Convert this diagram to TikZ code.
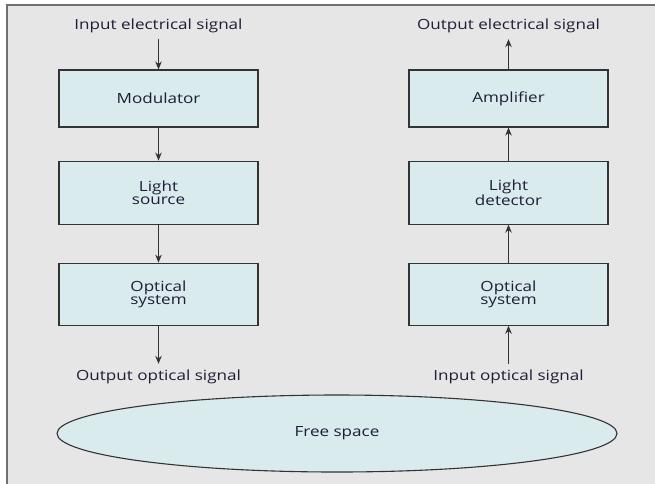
\documentclass[tikz,border=0pt]{standalone}
\usepackage{fontspec}
\setmainfont[FakeStretch=1.22]{Open Sans}
\usepackage{tikz}
\usetikzlibrary{positioning,arrows.meta,shapes.geometric}
\definecolor{bgpanel}{HTML}{E6E6E6}
\definecolor{frameln}{HTML}{707070}
\definecolor{boxfill}{HTML}{DAEBEE}
\definecolor{ink}{HTML}{1E1E36}
\definecolor{edge}{HTML}{333333}

\begin{document}
\begin{tikzpicture}[x=1pt,y=1pt,
  node distance=35pt,
  blk/.style={draw=edge,line width=1.1pt,fill=boxfill,
              minimum width=199pt,minimum height=60pt,align=center,
              font=\fontsize{14}{12.5}\selectfont,text=ink,inner sep=0pt},
  sig/.style={font=\fontsize{14}{13}\selectfont,text=ink,inner sep=6pt},
  arr/.style={-{Stealth[length=8pt,width=6.5pt]},line width=1.1pt,edge}]
  \useasboundingbox (0,0) rectangle (655,-483);
  \fill[white] (0,0) rectangle (655,-483);
  \draw[frameln,line width=1.3pt,fill=bgpanel] (7,-5) rectangle (700,-530);
  % transmitter
  \node[blk,minimum height=57pt] (mod) at (158.5,-98.5) {Modulator};
  \node[blk,minimum height=63pt,below=33pt of mod] (src) {Light\\source};
  \node[blk,minimum height=62pt,below=38pt of src] (tos) {Optical\\system};
  \node[sig] (inel) at (158.5,-26) {Input electrical signal};
  \node[sig] (outopt) at (158.5,-377) {Output optical signal};
  % receiver
  \node[blk,minimum height=57pt] (amp) at (508.5,-98.5) {Amplifier};
  \node[blk,minimum height=63pt,below=33pt of amp] (det) {Light\\detector};
  \node[blk,minimum height=62pt,below=38pt of det] (ros) {Optical\\system};
  \node[sig] (outel) at (508.5,-26) {Output electrical signal};
  \node[sig] (inopt) at (508.5,-377) {Input optical signal};
  % channel
  \node[ellipse,draw=edge,line width=1.1pt,fill=boxfill,minimum width=560pt,
        minimum height=77pt,inner sep=0pt,font=\fontsize{14}{13}\selectfont,text=ink]
        (fs) at (337,-433.5) {Free space};
  \draw[arr] (inel) -- (mod);
  \draw[arr] (mod) -- (src);
  \draw[arr] (src) -- (tos);
  \draw[arr] (tos) -- (outopt);
  \draw[arr] (inopt) -- (ros);
  \draw[arr] (ros) -- (det);
  \draw[arr] (det) -- (amp);
  \draw[arr] (amp) -- (outel);
\end{tikzpicture}
\end{document}
